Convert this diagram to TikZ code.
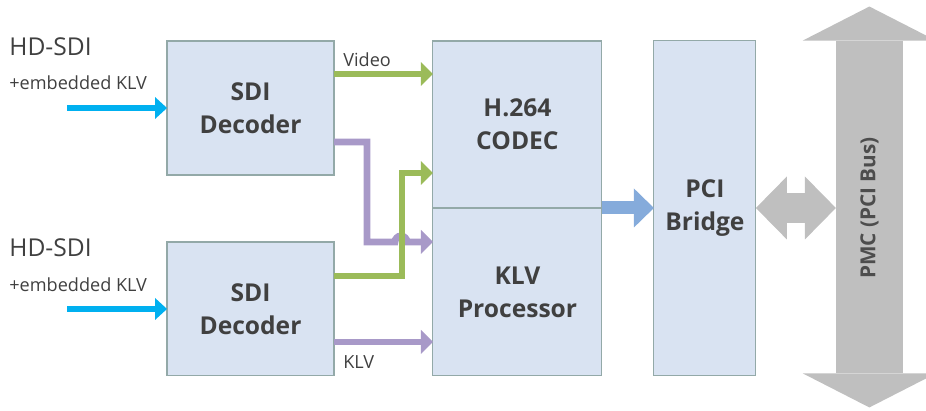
\documentclass[tikz,border=0pt]{standalone}
\usepackage{fontspec}
\setmainfont{Open Sans}
\usetikzlibrary{arrows.meta,positioning,calc,backgrounds}
\definecolor{boxfill}{HTML}{D9E3F2}
\definecolor{boxline}{HTML}{93A9A8}
\definecolor{txtgrey}{HTML}{404040}
\definecolor{busgrey}{HTML}{BFBFBF}
\definecolor{bustxt}{HTML}{4D4D4D}
\definecolor{cyanin}{HTML}{00B0F0}
\definecolor{vidgreen}{HTML}{9BBB59}
\definecolor{klvpurple}{HTML}{A899C8}
\definecolor{pciblue}{HTML}{85ABDB}
\tikzset{
  blockbox/.style={rectangle,draw=boxline,line width=0.6pt,fill=boxfill,align=center,inner sep=0pt,outer sep=0pt,text=txtgrey,font=\fontsize{14}{18.7}\selectfont\bfseries},
  srctext/.style={anchor=west,inner sep=0pt,text=txtgrey,font=\fontsize{14}{16}\selectfont},
  subtext/.style={anchor=west,inner sep=0pt,text=txtgrey,font=\fontsize{10.3}{12}\selectfont},
  inarrow/.style={-{Triangle[length=2.4mm,width=4.4mm,line width=0pt]},line width=3.4pt,draw=cyanin},
  videoarrow/.style={-{Triangle[length=2.4mm,width=4.8mm,line width=0pt]},line width=3.9pt,draw=vidgreen},
  klvarrow/.style={-{Triangle[length=2.4mm,width=4.8mm,line width=0pt]},line width=3.9pt,draw=klvpurple},
  pciarrow/.style={-{Triangle[length=4mm,width=7.8mm,line width=0pt]},line width=0.26cm,draw=pciblue},
  linkarrow/.style={{Triangle[length=6.2mm,width=12.6mm,line width=0pt]}-{Triangle[length=6.2mm,width=12.6mm,line width=0pt]},line width=0.6cm,draw=busgrey},
  busarrow/.style={{Triangle[length=6.8mm,width=26.6mm,line width=0pt]}-{Triangle[length=6.8mm,width=26.6mm,line width=0pt]},line width=1.34cm,draw=busgrey},
  bustext/.style={rectangle,inner sep=0pt,outer sep=0pt,minimum width=1.34cm,minimum height=6.7cm,text=bustxt,font=\fontsize{11.8}{13}\selectfont\bfseries}
}
\begin{document}
\begin{tikzpicture}[x=0.02cm,y=0.02cm]
  \useasboundingbox (0,0) rectangle (926,410);
  \clip (0,0) rectangle (926,410);

  % blocks
  \node[blockbox, minimum width=3.34cm, minimum height=2.68cm] (dec1) at (250.5,302) {SDI\\Decoder};
  \node[blockbox, minimum width=3.34cm, minimum height=2.68cm, below=1.34cm of dec1] (dec2) {SDI\\Decoder};
  \node[blockbox, minimum width=3.38cm, minimum height=3.34cm, below right=0cm and 1.98cm of dec1.north east] (codec) {H.264\\CODEC};
  \node[blockbox, minimum width=3.38cm, minimum height=3.36cm, below=0cm of codec] (klv) {KLV\\Processor};
  \node[blockbox, minimum width=2.04cm, minimum height=6.7cm, right=1.04cm of codec.south east] (pci) {PCI\\Bridge};
  \node[bustext, right=1.6cm of pci] (bus) {\rotatebox{90}{PMC (PCI Bus)}};

  % inputs
  \node[srctext] (hd1) at (9,363) {HD-SDI};
  \node[subtext] (emb1) at (9,327) {+embedded KLV};
  \node[srctext] (hd2) at (9,162) {HD-SDI};
  \node[subtext] (emb2) at (9,125) {+embedded KLV};
  \coordinate[left=2cm of dec1.west] (in1);
  \coordinate[left=2cm of dec2.west] (in2);
  \draw[inarrow] (in1) -- (dec1.west);
  \draw[inarrow] (in2) -- (dec2.west);

  \node[subtext] (vidlbl) at (343,350) {Video};
  \node[subtext] (klvlbl) at (343,48) {KLV};

  % klv paths
  \draw[klvarrow] ($(dec1.east)+(0,-34)$) -- ++(33,0) |- ($(klv.west)+(-38,50)$)
    arc[start angle=180,end angle=0,radius=0.12cm] -- ($(klv.west)+(0,50)$);
  \draw[klvarrow] ($(dec2.east)+(0,-33)$) coordinate (k2) -- (k2 -| klv.west);

  % video paths
  \draw[videoarrow] ($(dec1.east)+(0,34)$) coordinate (v1) -- (v1 -| codec.west);
  \draw[videoarrow] ($(dec2.east)+(0,33)$) -- ++(68,0) |- ($(codec.west)+(0,-48.5)$);

  \draw[pciarrow] (codec.south east) -- (pci.west);
  \draw[linkarrow] (pci.east) -- (bus.west);
  \begin{scope}[on background layer]
    \draw[busarrow] ($(bus.north)+(0,34)$) -- ($(bus.south)+(0,-32)$);
  \end{scope}
\end{tikzpicture}
\end{document}
